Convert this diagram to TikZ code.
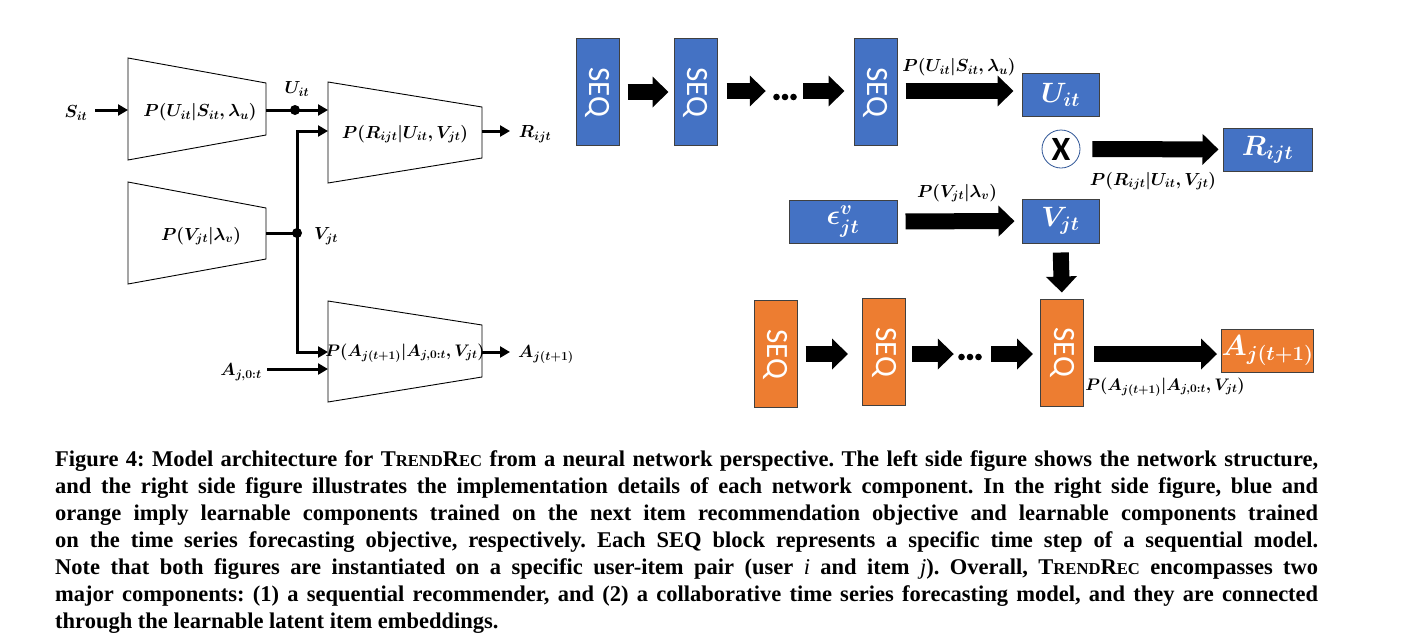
\RequirePackage{fix-cm}
\documentclass[tikz,border=0pt]{standalone}
\usepackage[no-math]{fontspec}
\setmainfont{Liberation Serif}
\newfontfamily\seqfont{Carlito}
\usetikzlibrary{arrows.meta}
\definecolor{blu}{HTML}{4472C4}
\definecolor{ora}{HTML}{ED7D31}
\definecolor{circ}{HTML}{2F5597}
\newcommand\fsc[1]{{\fontsize{16.6}{16.6}\selectfont #1}}
\newcommand\capline[1]{\makebox[1263pt][s]{#1}}
\tikzset{
  lbl/.style={inner sep=0pt, font=\fontsize{17.5}{21}\selectfont\boldmath},
  lbls/.style={inner sep=0pt, font=\fontsize{16.7}{20}\selectfont\boldmath},
  trap/.style={draw=black, line width=0.9pt, fill=white},
  arr/.style={line width=3pt, -{Triangle[length=10pt,width=11pt]}},
  plain/.style={line width=3pt},
  seqbox/.style={draw=black!75, line width=1pt, minimum width=43pt, minimum height=107pt, inner sep=0pt, text=white, font=\seqfont\fontsize{31}{31}\selectfont},
  valbox/.style={draw=black!75, line width=1pt, inner sep=0pt, text=white, font=\fontsize{28}{30}\selectfont\boldmath},
  bfill/.style={fill=blu},
  ofill/.style={fill=ora},
  blk/.style={line width=16pt, -{Triangle[length=16pt,width=30pt]}},
  dotnode/.style={minimum width=24pt, minimum height=8pt, inner sep=0pt},
  capt/.style={anchor=base west, inner sep=0pt, font=\fontsize{22.5}{27}\selectfont\bfseries\frenchspacing},
}
\begin{document}
\begin{tikzpicture}[x=1pt,y=-1pt]
\useasboundingbox (0,0) rectangle (1404,643);
\fill[white] (0,0) rectangle (1404,643);

% ---------------- left side ----------------
\draw[trap] (128,58) -- (266,83) -- (266,135) -- (128,160) -- cycle;
\draw[trap] (128,182) -- (266,208) -- (266,259) -- (128,284) -- cycle;
\draw[trap] (328,82) -- (482,107) -- (482,158) -- (328,183) -- cycle;
\draw[trap] (328,301) -- (482,325) -- (482,377) -- (328,402) -- cycle;

\node[lbl] (tU) at (200,112) {$P(U_{it}|S_{it},\lambda_u)$};
\node[lbl] (tV) at (201,236) {$P(V_{jt}|\lambda_v)$};
\node[lbl] (tR) at (405,134) {$P(R_{ijt}|U_{it},V_{jt})$};
\node[lbls] (tA) at (405,353) {$P(A_{j(t+1)}|A_{j,0:t},V_{jt})$};

\coordinate (Uin) at (128,110);
\coordinate (Uout) at (266,110);
\coordinate (Vout) at (266,233);
\coordinate (Rin1) at (328,110);
\coordinate (Rin2) at (328,131);
\coordinate (Rout) at (482,131);
\coordinate (Ain1) at (328,352);
\coordinate (Ain2) at (328,369);
\coordinate (Aout) at (482,352);
\coordinate (Udot) at (295,110);
\coordinate (Vdot) at (297,233);

\node[lbl] (S) at (76,113) {$S_{it}$};
\node[lbl] (Ulab) at (297,89) {$U_{it}$};
\node[lbl] (Vlab) at (326,236) {$V_{jt}$};
\node[lbl] (Rlab) at (535,134) {$R_{ijt}$};
\node[lbl] (A0) at (241,372) {$A_{j,0:t}$};
\node[lbl] (A1) at (546,355) {$A_{j(t+1)}$};

\draw[arr] (95,110) coordinate (Sout) -- (Uin);
\draw[arr] (Uout) -- (Rin1);
\fill (Udot) circle (5pt);
\draw[plain] (Vout) -- (Vdot);
\draw[arr] (Vdot) |- (Rin2);
\draw[arr] (Vdot) |- (Ain1);
\fill (Vdot) circle (5pt);
\draw[arr] (267,369) coordinate (A0out) -- (Ain2);
\draw[arr] (Rout) -- (510,131) coordinate (Rend);
\draw[arr] (Aout) -- (510,352) coordinate (Aend);

% ---------------- right side: blue ----------------
\node[seqbox,bfill] (b1) at (597.5,92) {\rotatebox{-90}{SEQ}};
\node[seqbox,bfill] (b2) at (695.5,92) {\rotatebox{-90}{SEQ}};
\node[seqbox,bfill] (b3) at (875.5,92) {\rotatebox{-90}{SEQ}};
\node[dotnode] (d1) at (785,97) {};
\fill (776.5,97) circle (3.3pt) (785,97) circle (3.3pt) (793.5,97) circle (3.3pt);

\node[valbox,bfill,minimum width=77pt,minimum height=43pt] (U) at (1060.5,95) {$U_{it}$};
\node[draw=circ, line width=0.8pt, circle, minimum size=38pt, inner sep=0pt, font=\seqfont\bfseries\fontsize{34}{34}\selectfont] (X) at (1061,149) {X};
\node[valbox,bfill,minimum width=89pt,minimum height=43pt] (R) at (1267.5,149.5) {$R_{ijt}$};
\node[valbox,bfill,minimum width=108pt,minimum height=43pt] (eps) at (843,221.5) {$\epsilon^{v}_{jt}$};
\node[valbox,bfill,minimum width=77pt,minimum height=44pt] (V) at (1060.5,221) {$V_{jt}$};

\draw[blk,shorten <=8pt,shorten >=5pt] (b1.east) -- (b2.west);
\draw[blk,shorten <=9pt,shorten >=7pt] ([yshift=1pt]b2.east) -- ([yshift=1pt]b2.east -| d1.west);
\draw[blk,shorten <=6pt,shorten >=9pt] ([yshift=1pt]b3.west -| d1.east) -- ([yshift=1pt]b3.west);
\draw[blk,shorten <=8pt,shorten >=8pt] ([yshift=1pt]b3.east) -- ([yshift=1pt]b3.east -| U.west);
\draw[blk,shorten <=12pt,shorten >=4pt] (X) -- (R);
\draw[blk,shorten <=8pt,shorten >=7pt] (eps) -- (V);

\node[lbl] (pU) at (959,67) {$P(U_{it}|S_{it},\lambda_u)$};
\node[lbl] (pR) at (1153,181) {$P(R_{ijt}|U_{it},V_{jt})$};
\node[lbl] (pV) at (957,193) {$P(V_{jt}|\lambda_v)$};

% ---------------- right side: orange ----------------
\node[seqbox,ofill] (o1) at (775.5,354) {\rotatebox{-90}{SEQ}};
\node[seqbox,ofill] (o2) at (884,352) {\rotatebox{-90}{SEQ}};
\node[seqbox,ofill] (o3) at (1062,352.5) {\rotatebox{-90}{SEQ}};
\node[dotnode] (d2) at (970,357) {};
\fill (961.5,357) circle (3.3pt) (970,357) circle (3.3pt) (978.5,357) circle (3.3pt);
\node[valbox,ofill,minimum width=89pt,minimum height=43pt,font=\fontsize{29}{30}\selectfont\boldmath] (A) at (1267.5,350.5) {$A_{j(t+1)}$};

\draw[blk,shorten <=8pt,shorten >=14pt] (o1.east |- 0,354) -- (o2.west |- 0,354);
\draw[blk,shorten <=6pt,shorten >=4pt] (o2.east |- 0,354) -- (d2.west |- 0,354);
\draw[blk,shorten <=9pt,shorten >=7pt] (d2.east |- 0,354) -- (o3.west |- 0,354);
\draw[blk,shorten <=10pt,shorten >=4pt] (o3.east |- 0,354) -- (A.west |- 0,354);
\draw[blk,shorten <=9pt,shorten >=6pt] (V.south) -- (o3.north);

\node[lbls] (pA) at (1165,387) {$P(A_{j(t+1)}|A_{j,0:t},V_{jt})$};

% ---------------- caption ----------------
\node[capt] (c1) at (55,466) {\capline{Figure 4: Model architecture for T\fsc{REND}R\fsc{EC} from a neural network perspective. The left side figure shows the network structure,}};
\node[capt] (c2) at (55,493) {\capline{and the right side figure illustrates the implementation details of each network component. In the right side figure, blue and}};
\node[capt] (c3) at (55,520) {\capline{orange imply learnable components trained on the next item recommendation objective and learnable components trained}};
\node[capt] (c4) at (55,547) {\capline{on the time series forecasting objective, respectively. Each SEQ block represents a specific time step of a sequential model.}};
\node[capt] (c5) at (55,574) {\capline{Note that both figures are instantiated on a specific user-item pair (user {\mdseries\itshape i} and item {\mdseries\itshape j}). Overall, T\fsc{REND}R\fsc{EC} encompasses two}};
\node[capt] (c6) at (55,601) {\capline{major components: (1) a sequential recommender, and (2) a collaborative time series forecasting model, and they are connected}};
\node[capt] (c7) at (55,628) {through the learnable latent item embeddings.};
\end{tikzpicture}
\end{document}
